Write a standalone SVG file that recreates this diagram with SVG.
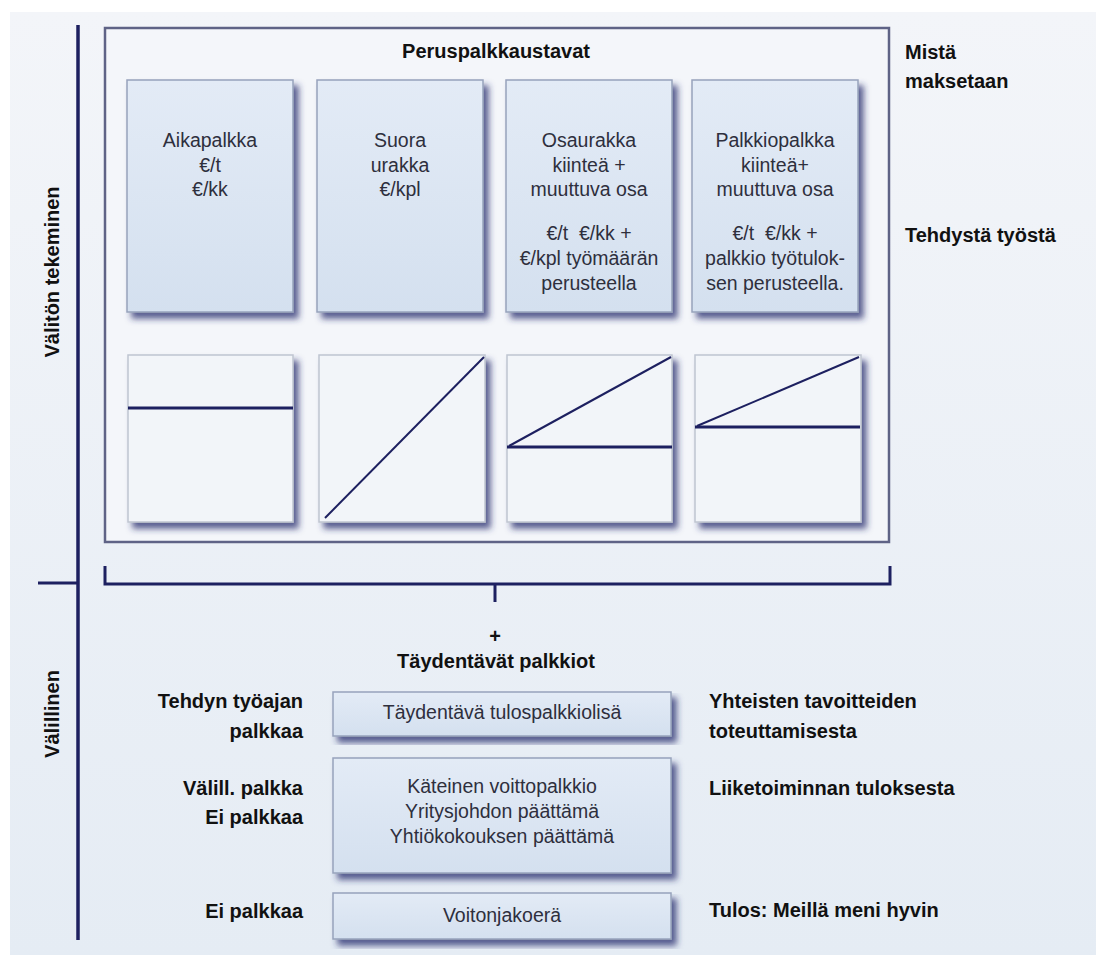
<svg xmlns="http://www.w3.org/2000/svg" width="1096" height="955" viewBox="0 0 1096 955">
<style>
.b{font-family:"Liberation Sans",Arial,sans-serif;font-weight:bold;font-size:20px;fill:#111}
.r{font-family:"Liberation Sans",Arial,sans-serif;font-size:19.5px;fill:#2e2f3d;text-anchor:middle}
.c{text-anchor:middle}
.e{text-anchor:end}
.pre{white-space:pre}
.box{fill:url(#boxg);stroke:#97a3bc;stroke-width:1.5}
.gbox{fill:#f2f5f9;stroke:#bfc5d1;stroke-width:1.5}
.ln{stroke:#1d2060;fill:none}
</style>
<defs>
<linearGradient id="bg" x1="0" y1="0" x2="0" y2="1">
<stop offset="0" stop-color="#f3f5f9"/>
<stop offset="1" stop-color="#e5ecf4"/>
</linearGradient>
<linearGradient id="boxg" x1="0" y1="0" x2="0" y2="1">
<stop offset="0" stop-color="#e3ebf6"/>
<stop offset="1" stop-color="#d4e0ef"/>
</linearGradient>
<filter id="sh" x="-10%" y="-10%" width="125%" height="130%">
<feGaussianBlur in="SourceAlpha" stdDeviation="3"/>
<feOffset dx="5" dy="6" result="o"/>
<feFlood flood-color="#262c6e" flood-opacity="0.75"/>
<feComposite in2="o" operator="in"/>
<feMerge><feMergeNode/><feMergeNode in="SourceGraphic"/></feMerge>
</filter>
</defs>
<rect x="0" y="0" width="1096" height="955" fill="#ffffff"/>
<rect x="10" y="12" width="1086" height="943" fill="url(#bg)"/>

<g id="frame">
<rect x="105" y="28" width="784" height="514" fill="#f4f6fa" stroke="#5f6386" stroke-width="2.5"/>
<text class="b c" x="496" y="58">Peruspalkkaustavat</text>
</g>

<g id="side-labels">
<text class="b" x="905" y="59">Mistä</text>
<text class="b" x="905" y="88">maksetaan</text>
<text class="b" x="905" y="242">Tehdystä työstä</text>
<text class="b c" font-size="21" transform="translate(59,272) rotate(-90)">Välitön tekeminen</text>
<text class="b c" font-size="21" transform="translate(59,714) rotate(-90)">Välillinen</text>
</g>

<g id="aikapalkka">
<rect class="box" filter="url(#sh)" x="127" y="80" width="166" height="232"/>
<text class="r" x="210" y="147">Aikapalkka</text>
<text class="r" x="210" y="172">€/t</text>
<text class="r" x="210" y="196">€/kk</text>
</g>
<g id="suora-urakka">
<rect class="box" filter="url(#sh)" x="317" y="80" width="166" height="232"/>
<text class="r" x="400" y="147">Suora</text>
<text class="r" x="400" y="172">urakka</text>
<text class="r" x="400" y="196">€/kpl</text>
</g>
<g id="osaurakka">
<rect class="box" filter="url(#sh)" x="506" y="80" width="166" height="232"/>
<text class="r" x="589" y="147">Osaurakka</text>
<text class="r" x="589" y="172">kiinteä +</text>
<text class="r" x="589" y="196">muuttuva osa</text>
<text class="r pre" x="589" y="240">€/t  €/kk +</text>
<text class="r" x="589" y="265">€/kpl työmäärän</text>
<text class="r" x="589" y="290">perusteella</text>
</g>
<g id="palkkiopalkka">
<rect class="box" filter="url(#sh)" x="692" y="80" width="166" height="232"/>
<text class="r" x="775" y="147">Palkkiopalkka</text>
<text class="r" x="775" y="172">kiinteä+</text>
<text class="r" x="775" y="196">muuttuva osa</text>
<text class="r pre" x="775" y="240">€/t  €/kk +</text>
<text class="r" x="775" y="265">palkkio työtulok-</text>
<text class="r" x="775" y="290">sen perusteella.</text>
</g>

<g id="graph1">
<rect class="gbox" filter="url(#sh)" x="128" y="355" width="165" height="167"/>
<line class="ln" x1="128" y1="408" x2="293" y2="408" stroke-width="3"/>
</g>
<g id="graph2">
<rect class="gbox" filter="url(#sh)" x="319" y="355" width="166" height="167"/>
<line class="ln" x1="325" y1="518" x2="484" y2="357" stroke-width="2"/>
</g>
<g id="graph3">
<rect class="gbox" filter="url(#sh)" x="507" y="355" width="165" height="167"/>
<line class="ln" x1="507" y1="447" x2="672" y2="447" stroke-width="3"/>
<line class="ln" x1="509" y1="446" x2="671" y2="357" stroke-width="2"/>
</g>
<g id="graph4">
<rect class="gbox" filter="url(#sh)" x="695" y="355" width="166" height="167"/>
<line class="ln" x1="695" y1="427" x2="860" y2="427" stroke-width="3"/>
<line class="ln" x1="697" y1="426" x2="859" y2="357" stroke-width="2"/>
</g>

<g id="connectors">
<path class="ln" d="M78 25 V940" stroke-width="3.5"/>
<path class="ln" d="M38 583 H78" stroke-width="3"/>
<path class="ln" d="M105 566 V584 H890 V566" stroke-width="3"/>
<path class="ln" d="M495 584 V602" stroke-width="3"/>
</g>

<g id="taydentavat">
<text class="b c" font-size="30" x="495" y="643">+</text>
<text class="b c" x="496" y="668">Täydentävät palkkiot</text>
</g>

<g id="tulospalkkio">
<rect class="box" filter="url(#sh)" x="333" y="692" width="338" height="44"/>
<text class="r" x="502" y="719">Täydentävä tulospalkkiolisä</text>
<text class="b e" x="303" y="708">Tehdyn työajan</text>
<text class="b e" x="303" y="738">palkkaa</text>
<text class="b" x="709" y="708">Yhteisten tavoitteiden</text>
<text class="b" x="709" y="738">toteuttamisesta</text>
</g>
<g id="voittopalkkio">
<rect class="box" filter="url(#sh)" x="333" y="758" width="338" height="115"/>
<text class="r" x="502" y="793">Käteinen voittopalkkio</text>
<text class="r" x="502" y="818">Yritysjohdon päättämä</text>
<text class="r" x="502" y="843">Yhtiökokouksen päättämä</text>
<text class="b e" x="303" y="795">Välill. palkka</text>
<text class="b e" x="303" y="824">Ei palkkaa</text>
<text class="b" x="709" y="795">Liiketoiminnan tuloksesta</text>
</g>
<g id="voitonjako">
<rect class="box" filter="url(#sh)" x="333" y="893" width="338" height="46"/>
<text class="r" x="502" y="922">Voitonjakoerä</text>
<text class="b e" x="303" y="918">Ei palkkaa</text>
<text class="b" x="709" y="917">Tulos: Meillä meni hyvin</text>
</g>
</svg>
